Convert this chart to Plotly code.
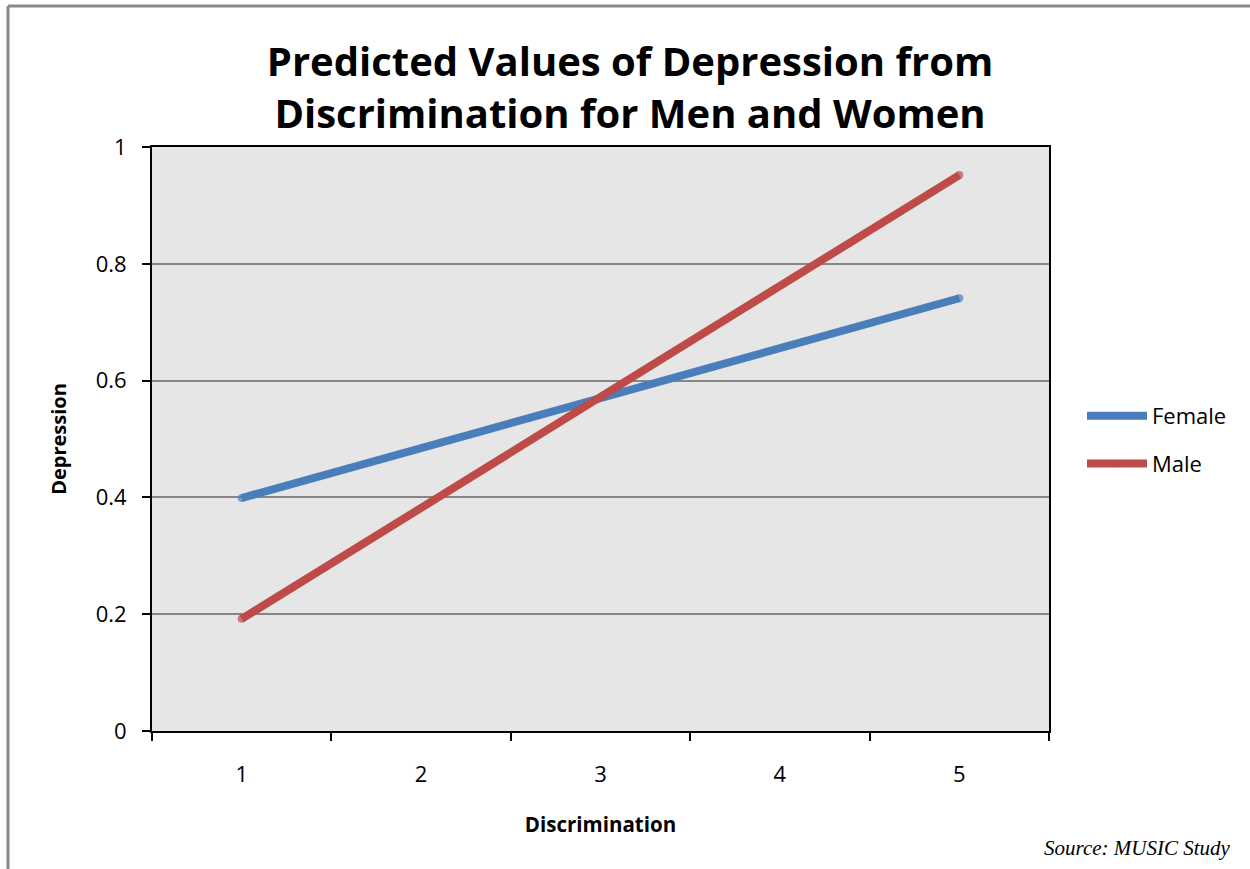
import plotly.graph_objects as go

categories = ["1", "2", "3", "4", "5"]
female = [0.399, 0.485, 0.570, 0.656, 0.741]
male = [0.192, 0.382, 0.572, 0.762, 0.952]
y_ticks = [0, 0.2, 0.4, 0.6, 0.8, 1]

W, H = 1250, 869
L, R, T, B = 152, 1049, 147, 731

def px(x):
    return (x - L) / (R - L)

def py(y):
    return (B - y) / (B - T)

FONT = "Open Sans"
end_caps = [8, 0, 0, 0, 8]
fig = go.Figure()
fig.add_trace(go.Scatter(x=categories, y=female, name="Female", legendgroup="f",
                         mode="lines+markers",
                         line=dict(color="#4a7ebb", width=8),
                         marker=dict(size=end_caps, color="#4a7ebb", line=dict(width=0))))
fig.add_trace(go.Scatter(x=categories, y=male, name="Male", legendgroup="m",
                         mode="lines+markers",
                         line=dict(color="#be4b48", width=8),
                         marker=dict(size=end_caps, color="#be4b48", line=dict(width=0))))

fig.update_layout(
    width=W, height=H,
    margin=dict(l=L, r=W - R, t=T, b=H - B),
    paper_bgcolor="white", plot_bgcolor="#e6e6e6",
    font=dict(family=FONT, color="black", size=22),
    title=dict(text="<b>Predicted Values of Depression from<br>Discrimination for Men and Women</b>",
               x=630 / W, xanchor="center", xref="container", y=1 - 76 / H, yanchor="middle",
               yref="container", font=dict(size=40, family=FONT)),
    xaxis=dict(type="category", range=[-0.5, 4.5], showgrid=False, showline=True,
               linecolor="black", linewidth=2, mirror=True, ticks="outside",
               tickson="boundaries", ticklen=8, tickwidth=2, tickcolor="black",
               ticklabelstandoff=23,
               title=dict(text="<b>Discrimination</b>", font=dict(size=20.5), standoff=30),
               tickfont=dict(size=22)),
    yaxis=dict(range=[0, 1], tickvals=y_ticks, ticktext=[str(v) for v in y_ticks],
               showgrid=True, gridcolor="#868686", gridwidth=2,
               showline=True, linecolor="black", linewidth=2, mirror=True,
               ticks="outside", ticklen=8, tickwidth=2, tickcolor="black",
               ticklabelstandoff=11, zeroline=False,
               title=dict(text="<b>Depression</b>", font=dict(size=20), standoff=24),
               tickfont=dict(size=22)),
    legend=dict(x=px(1082), y=py(395), xanchor="left", yanchor="top",
                font=dict(size=22), itemwidth=60, tracegroupgap=16,
                bgcolor="rgba(0,0,0,0)"),
    showlegend=True,
)

fig.add_annotation(text="<i>Source: MUSIC Study</i>", xref="paper", yref="paper",
                   x=px(1233), y=py(848), xanchor="right", yanchor="middle",
                   showarrow=False, font=dict(family="Liberation Serif", size=21))

# outer frame (top and left edges)
fig.add_shape(type="line", xref="paper", yref="paper", x0=px(8), x1=px(1250),
              y0=py(6), y1=py(6), line=dict(color="#898989", width=3))
fig.add_shape(type="line", xref="paper", yref="paper", x0=px(8), x1=px(8),
              y0=py(6), y1=py(869), line=dict(color="#898989", width=3))

fig.write_html("out.html", config={"displayModeBar": False},
               post_script="document.body.style.margin='0';")
